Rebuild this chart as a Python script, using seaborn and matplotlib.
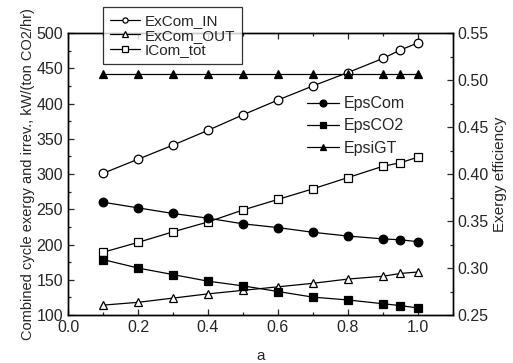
import matplotlib
matplotlib.use("Agg")
import matplotlib.pyplot as plt
import seaborn as sns
import numpy as np
from matplotlib.ticker import MultipleLocator

sns.set_style("ticks")
plt.rcParams['font.family'] = ['Liberation Sans', 'DejaVu Sans']
plt.rcParams['xtick.direction'] = 'in'
plt.rcParams['ytick.direction'] = 'in'

a = [0.1, 0.2, 0.3, 0.4, 0.5, 0.6, 0.7, 0.8, 0.9, 0.95, 1.0]
excom_in = [301, 321, 341, 362, 384, 405, 425, 444, 464, 476, 486]
excom_out = [114, 118, 124, 130, 135, 140, 145, 151, 155, 159, 161]
icom_tot = [189, 203, 218, 232, 249, 264, 279, 295, 311, 316, 324]
eps_com = [0.370, 0.364, 0.358, 0.353, 0.347, 0.343, 0.338, 0.334, 0.331, 0.330, 0.328]
eps_co2 = [0.309, 0.300, 0.293, 0.286, 0.281, 0.275, 0.269, 0.266, 0.262, 0.260, 0.2575]
eps_gt = [0.506] * 11

fig = plt.figure(figsize=(5.13, 3.63), dpi=100)
ax = fig.add_axes([0.1326, 0.1322, 0.7504, 0.7768])
ax2 = ax.twinx()

ms = 6.2
common = dict(color='black', linewidth=0.9, markeredgecolor='black', markeredgewidth=0.9, markersize=ms)

sns.lineplot(x=a, y=excom_in, ax=ax, marker='o', markerfacecolor='white', label='ExCom_IN', legend=False, **common)
sns.lineplot(x=a, y=excom_out, ax=ax, marker='^', markerfacecolor='white', label='ExCom_OUT', legend=False, **common)
sns.lineplot(x=a, y=icom_tot, ax=ax, marker='s', markerfacecolor='white', label='ICom_tot', legend=False, **common)
sns.lineplot(x=a, y=eps_com, ax=ax2, marker='o', markerfacecolor='black', label='EpsCom', legend=False, **common)
sns.lineplot(x=a, y=eps_co2, ax=ax2, marker='s', markerfacecolor='black', label='EpsCO2', legend=False, **common)
sns.lineplot(x=a, y=eps_gt, ax=ax2, marker='^', markerfacecolor='black', label='EpsiGT', legend=False, **common)

ax.set_xlim(0.0, 1.1)
ax.set_ylim(100, 500)
ax2.set_ylim(0.25, 0.55)
ax.set_xticks([0.0, 0.2, 0.4, 0.6, 0.8, 1.0])
ax.xaxis.set_minor_locator(MultipleLocator(0.1))
ax.set_yticks(np.arange(100, 501, 50))
ax.yaxis.set_minor_locator(MultipleLocator(25))
ax2.set_yticks([0.25, 0.30, 0.35, 0.40, 0.45, 0.50, 0.55])
ax2.yaxis.set_minor_locator(MultipleLocator(0.025))
ax2.yaxis.set_major_formatter(matplotlib.ticker.FormatStrFormatter('%.2f'))
ax.xaxis.set_major_formatter(matplotlib.ticker.FormatStrFormatter('%.1f'))

fs = 11.5
ax.tick_params(axis='both', which='both', top=True, labelsize=fs, width=0.9)
ax.tick_params(which='major', length=4)
ax.tick_params(which='minor', length=2)
ax.tick_params(axis='y', right=False)
ax2.tick_params(axis='y', which='both', labelsize=fs, width=0.9)
ax2.tick_params(which='major', length=4)
ax2.tick_params(which='minor', length=2)

for sp in list(ax.spines.values()) + list(ax2.spines.values()):
    sp.set_linewidth(1.0)
    sp.set_color('black')

ax.set_xlabel('a', fontsize=11, labelpad=10)
ax.set_ylabel('Combined cycle exergy and irrev., kW/(ton CO2/hr)', fontsize=10.5, labelpad=1)
ax2.set_ylabel('Exergy efficiency', fontsize=11, labelpad=3)

h1, l1 = ax.get_legend_handles_labels()
h2, l2 = ax2.get_legend_handles_labels()
leg1 = fig.legend(h1, l1, loc='upper left', bbox_to_anchor=(103/513, 1 - 7/363), frameon=True,
                  fontsize=11, handlelength=2.0, handletextpad=0.3, borderpad=0.45, labelspacing=0.05,
                  fancybox=False, edgecolor='black', borderaxespad=0, markerscale=0.6)
leg1.get_frame().set_linewidth(0.9)
leg2 = fig.legend(h2, l2, loc='upper left', bbox_to_anchor=(304/513, 1 - 93/363), frameon=False,
                  fontsize=11.5, handlelength=2.0, handletextpad=0.3, borderpad=0.2, labelspacing=0.45,
                  borderaxespad=0, markerscale=0.8)

fig.savefig('out.png', dpi=100)
